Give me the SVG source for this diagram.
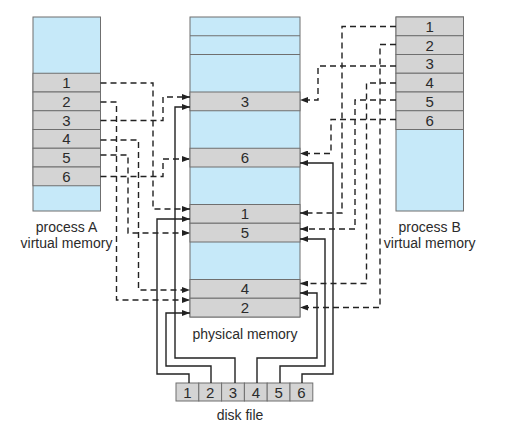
<svg xmlns="http://www.w3.org/2000/svg" width="507" height="430" viewBox="0 0 507 430">
<style>
.blue{fill:#c6e9f9;stroke:#6f6f6f;stroke-width:1}
.gray{fill:#d4d4d4;stroke:#6f6f6f;stroke-width:1}
.sep{stroke:#6f6f6f;stroke-width:1}
.t{font-family:"Liberation Sans",Arial,sans-serif;font-size:14px;fill:#2b2b2b;text-anchor:middle}
.n{font-family:"Liberation Sans",Arial,sans-serif;font-size:15px;fill:#2b2b2b;text-anchor:middle}
.d{fill:none;stroke:#222;stroke-width:1.4;stroke-dasharray:6 4;marker-end:url(#ah)}
.s{fill:none;stroke:#222;stroke-width:1.4;marker-end:url(#ah)}
</style>
<defs>
<marker id="ah" markerWidth="8" markerHeight="6" refX="8" refY="3" orient="auto" markerUnits="userSpaceOnUse">
<path d="M0,0 L8,3 L0,6 Z" fill="#222"/>
</marker>
</defs>

<g id="processA">
<rect class="blue" x="33" y="17" width="67.5" height="194"/>
<rect class="gray" x="33" y="73.25" width="67.5" height="18.75"/>
<rect class="gray" x="33" y="92" width="67.5" height="18.75"/>
<rect class="gray" x="33" y="110.75" width="67.5" height="18.75"/>
<rect class="gray" x="33" y="129.5" width="67.5" height="18.75"/>
<rect class="gray" x="33" y="148.25" width="67.5" height="18.75"/>
<rect class="gray" x="33" y="167" width="67.5" height="18.75"/>
<text class="n" x="66.5" y="88">1</text>
<text class="n" x="66.5" y="106.8">2</text>
<text class="n" x="66.5" y="125.5">3</text>
<text class="n" x="66.5" y="144.3">4</text>
<text class="n" x="66.5" y="163">5</text>
<text class="n" x="66.5" y="181.8">6</text>
<text class="t" x="66.5" y="232">process A</text>
<text class="t" x="66.5" y="248">virtual memory</text>
</g>

<g id="physical">
<rect class="blue" x="190" y="17" width="110" height="300"/>
<line class="sep" x1="190" y1="35.75" x2="300" y2="35.75"/>
<line class="sep" x1="190" y1="54.5" x2="300" y2="54.5"/>
<rect class="gray" x="190" y="92" width="110" height="18.75"/>
<rect class="gray" x="190" y="148.25" width="110" height="18.75"/>
<rect class="gray" x="190" y="204.5" width="110" height="18.75"/>
<rect class="gray" x="190" y="223.25" width="110" height="18.75"/>
<rect class="gray" x="190" y="279.5" width="110" height="18.75"/>
<rect class="gray" x="190" y="298.25" width="110" height="18.75"/>
<text class="n" x="245" y="106.8">3</text>
<text class="n" x="245" y="163">6</text>
<text class="n" x="245" y="219.3">1</text>
<text class="n" x="245" y="238">5</text>
<text class="n" x="245" y="294.3">4</text>
<text class="n" x="245" y="313">2</text>
<text class="t" x="245" y="339">physical memory</text>
</g>

<g id="processB">
<rect class="blue" x="396" y="17" width="67.5" height="194"/>
<rect class="gray" x="396" y="17" width="67.5" height="18.75"/>
<rect class="gray" x="396" y="35.75" width="67.5" height="18.75"/>
<rect class="gray" x="396" y="54.5" width="67.5" height="18.75"/>
<rect class="gray" x="396" y="73.25" width="67.5" height="18.75"/>
<rect class="gray" x="396" y="92" width="67.5" height="18.75"/>
<rect class="gray" x="396" y="110.75" width="67.5" height="18.75"/>
<text class="n" x="429.7" y="31.8">1</text>
<text class="n" x="429.7" y="50.5">2</text>
<text class="n" x="429.7" y="69.3">3</text>
<text class="n" x="429.7" y="88">4</text>
<text class="n" x="429.7" y="106.8">5</text>
<text class="n" x="429.7" y="125.5">6</text>
<text class="t" x="429.7" y="232">process B</text>
<text class="t" x="429.7" y="248">virtual memory</text>
</g>

<g id="diskfile">
<rect class="gray" x="176" y="383" width="22.8" height="18"/>
<rect class="gray" x="198.8" y="383" width="22.8" height="18"/>
<rect class="gray" x="221.6" y="383" width="22.8" height="18"/>
<rect class="gray" x="244.4" y="383" width="22.8" height="18"/>
<rect class="gray" x="267.2" y="383" width="22.8" height="18"/>
<rect class="gray" x="290" y="383" width="22.8" height="18"/>
<text class="n" x="187.4" y="397.5">1</text>
<text class="n" x="210.2" y="397.5">2</text>
<text class="n" x="233" y="397.5">3</text>
<text class="n" x="255.8" y="397.5">4</text>
<text class="n" x="278.6" y="397.5">5</text>
<text class="n" x="301.4" y="397.5">6</text>
<text class="t" x="240" y="420">disk file</text>
</g>

<g id="connectors">
<path class="d" d="M100.5,83 H153 V209 H190"/>
<path class="d" d="M100.5,102 H116.5 V300 H190"/>
<path class="d" d="M100.5,120.5 H163 V97 H190"/>
<path class="d" d="M100.5,140 H138.5 V290 H190"/>
<path class="d" d="M100.5,155 H128 V233 H190"/>
<path class="d" d="M100.5,176.5 H163 V159 H190"/>
<path class="d" d="M396,26.5 H342 V213 H300"/>
<path class="d" d="M396,44.5 H380 V307.5 H300"/>
<path class="d" d="M396,66 H318 V100 H300"/>
<path class="d" d="M396,83 H366.5 V283.5 H300"/>
<path class="d" d="M396,100 H355 V229 H300"/>
<path class="d" d="M396,119.5 H331 V153.5 H300"/>
<path class="s" d="M189,383 V374 H157 V219 H190"/>
<path class="s" d="M211,383 V366 H166 V313 H190"/>
<path class="s" d="M235,383 V358 H175 V107 H190"/>
<path class="s" d="M257,383 V358 H317 V293 H300"/>
<path class="s" d="M280,383 V366 H325 V239 H300"/>
<path class="s" d="M302,383 V374 H333 V163 H300"/>
</g>
</svg>
